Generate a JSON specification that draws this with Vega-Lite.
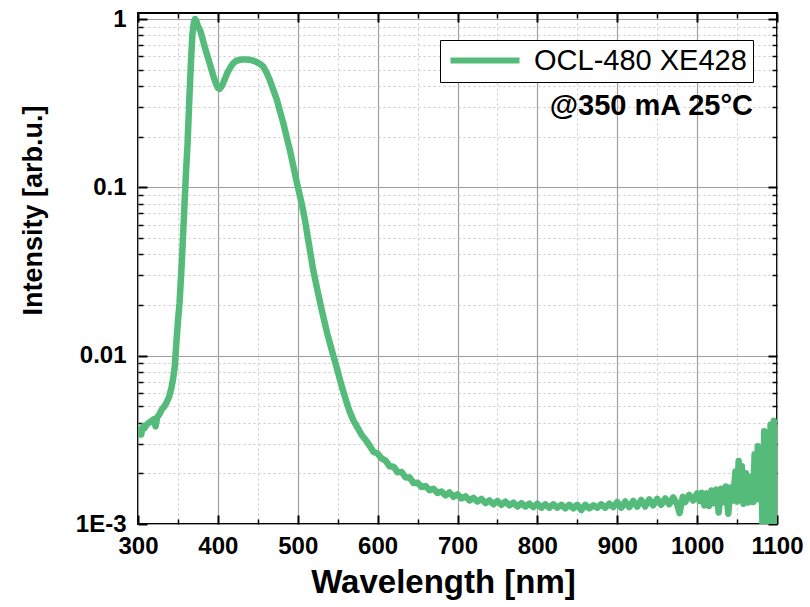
{
  "$schema": "https://vega.github.io/schema/vega-lite/v6.json",
  "width": 639,
  "height": 511,
  "autosize": {"type": "none"},
  "padding": {"left": 138, "top": 13, "right": 33, "bottom": 83},
  "background": "white",
  "config": {"view": {"stroke": "black", "strokeWidth": 2}, "font": "Liberation Sans"},
  "title": {"text": "@350 mA 25°C", "anchor": "end", "orient": "top", "frame": "group", "fontSize": 29, "fontWeight": "bold", "font": "Liberation Sans", "color": "black", "offset": 0, "baseline": "alphabetic", "dy": 137, "dx": -24},
  "data": {"values": [
    {"w": 300, "i": 0.0034}, {"w": 302, "i": 0.0036}, {"w": 304, "i": 0.0034}, {"w": 306, "i": 0.0038}, {"w": 308, "i": 0.0037},
    {"w": 311, "i": 0.0039}, {"w": 314, "i": 0.004}, {"w": 317, "i": 0.0041}, {"w": 320, "i": 0.0042}, {"w": 322, "i": 0.0038},
    {"w": 324, "i": 0.0043}, {"w": 327, "i": 0.0045}, {"w": 330, "i": 0.0048}, {"w": 333, "i": 0.005}, {"w": 336, "i": 0.0053},
    {"w": 339, "i": 0.0057}, {"w": 342, "i": 0.0065}, {"w": 344, "i": 0.0073}, {"w": 346, "i": 0.0086}, {"w": 348, "i": 0.0118},
    {"w": 350, "i": 0.016}, {"w": 352, "i": 0.0205}, {"w": 355, "i": 0.037}, {"w": 358, "i": 0.075}, {"w": 360, "i": 0.12},
    {"w": 362, "i": 0.18}, {"w": 364, "i": 0.31}, {"w": 366, "i": 0.52}, {"w": 368, "i": 0.8}, {"w": 370, "i": 0.96},
    {"w": 371.5, "i": 1.0}, {"w": 373, "i": 0.97}, {"w": 375, "i": 0.91}, {"w": 378, "i": 0.85}, {"w": 381, "i": 0.76},
    {"w": 384, "i": 0.67}, {"w": 388, "i": 0.58}, {"w": 391, "i": 0.52}, {"w": 394, "i": 0.465}, {"w": 397, "i": 0.42},
    {"w": 400, "i": 0.39}, {"w": 402, "i": 0.385}, {"w": 405, "i": 0.4}, {"w": 409, "i": 0.444}, {"w": 412, "i": 0.48},
    {"w": 415, "i": 0.51}, {"w": 419, "i": 0.545}, {"w": 423, "i": 0.565}, {"w": 430, "i": 0.575}, {"w": 436, "i": 0.575},
    {"w": 442, "i": 0.57}, {"w": 448, "i": 0.557}, {"w": 453, "i": 0.54}, {"w": 457, "i": 0.52}, {"w": 461, "i": 0.48},
    {"w": 465, "i": 0.434}, {"w": 469, "i": 0.385}, {"w": 474, "i": 0.33}, {"w": 478, "i": 0.28}, {"w": 482, "i": 0.24},
    {"w": 486, "i": 0.2}, {"w": 490, "i": 0.168}, {"w": 495, "i": 0.13}, {"w": 500, "i": 0.101}, {"w": 505, "i": 0.08},
    {"w": 509, "i": 0.064}, {"w": 514, "i": 0.046}, {"w": 519, "i": 0.033}, {"w": 525, "i": 0.024}, {"w": 530, "i": 0.0187},
    {"w": 537, "i": 0.0135}, {"w": 544, "i": 0.0102}, {"w": 550, "i": 0.0081}, {"w": 555, "i": 0.0066},
    {"w": 560, "i": 0.0055}, {"w": 565, "i": 0.00465}, {"w": 570, "i": 0.0041}, {"w": 575, "i": 0.00372}, {"w": 580, "i": 0.00338},
    {"w": 585, "i": 0.00316}, {"w": 590, "i": 0.00292}, {"w": 595, "i": 0.00268}, {"w": 600, "i": 0.00262}, {"w": 605, "i": 0.00245},
    {"w": 610, "i": 0.00238}, {"w": 615, "i": 0.0022}, {"w": 620, "i": 0.00219}, {"w": 625, "i": 0.00203}, {"w": 630, "i": 0.00204},
    {"w": 635, "i": 0.00189}, {"w": 640, "i": 0.00189}, {"w": 645, "i": 0.00175}, {"w": 650, "i": 0.00176}, {"w": 655, "i": 0.00166},
    {"w": 660, "i": 0.00168}, {"w": 665, "i": 0.00159}, {"w": 670, "i": 0.00162}, {"w": 675, "i": 0.00153}, {"w": 680, "i": 0.00156},
    {"w": 685, "i": 0.00148}, {"w": 690, "i": 0.00154}, {"w": 695, "i": 0.00145}, {"w": 700, "i": 0.0015}, {"w": 705, "i": 0.00142},
    {"w": 710, "i": 0.00146}, {"w": 715, "i": 0.00138}, {"w": 720, "i": 0.00143}, {"w": 725, "i": 0.00136}, {"w": 730, "i": 0.00141},
    {"w": 735, "i": 0.00133}, {"w": 740, "i": 0.00138}, {"w": 745, "i": 0.00131}, {"w": 750, "i": 0.00137}, {"w": 755, "i": 0.0013},
    {"w": 760, "i": 0.00136}, {"w": 765, "i": 0.00129}, {"w": 770, "i": 0.00134}, {"w": 775, "i": 0.00127}, {"w": 780, "i": 0.00133},
    {"w": 785, "i": 0.00127}, {"w": 790, "i": 0.00132}, {"w": 795, "i": 0.00126}, {"w": 800, "i": 0.00132}, {"w": 805, "i": 0.00125},
    {"w": 810, "i": 0.00131}, {"w": 815, "i": 0.00125}, {"w": 820, "i": 0.00131}, {"w": 825, "i": 0.00125}, {"w": 830, "i": 0.0013},
    {"w": 835, "i": 0.00124}, {"w": 840, "i": 0.0013}, {"w": 845, "i": 0.00124}, {"w": 850, "i": 0.0013}, {"w": 855, "i": 0.00121},
    {"w": 860, "i": 0.0013}, {"w": 865, "i": 0.00124}, {"w": 870, "i": 0.00129}, {"w": 875, "i": 0.00125}, {"w": 880, "i": 0.00131},
    {"w": 885, "i": 0.00125}, {"w": 890, "i": 0.00132}, {"w": 895, "i": 0.00126}, {"w": 900, "i": 0.00135}, {"w": 905, "i": 0.00125},
    {"w": 910, "i": 0.00136}, {"w": 915, "i": 0.00126}, {"w": 920, "i": 0.00137}, {"w": 925, "i": 0.00127}, {"w": 930, "i": 0.00139},
    {"w": 935, "i": 0.00127}, {"w": 940, "i": 0.0014}, {"w": 945, "i": 0.00129}, {"w": 950, "i": 0.00141}, {"w": 955, "i": 0.0013},
    {"w": 960, "i": 0.00142}, {"w": 965, "i": 0.00131}, {"w": 970, "i": 0.00144}, {"w": 975, "i": 0.00131}, {"w": 978, "i": 0.00116},
    {"w": 982, "i": 0.00145}, {"w": 985, "i": 0.00135}, {"w": 990, "i": 0.00149}, {"w": 995, "i": 0.00138}, {"w": 1000, "i": 0.00152},
    {"w": 1003, "i": 0.00137}, {"w": 1006, "i": 0.00153}, {"w": 1009, "i": 0.00129}, {"w": 1012, "i": 0.00152}, {"w": 1015, "i": 0.00128},
    {"w": 1018, "i": 0.00158}, {"w": 1021, "i": 0.00133}, {"w": 1024, "i": 0.0016}, {"w": 1027, "i": 0.00117}, {"w": 1030, "i": 0.00162},
    {"w": 1033, "i": 0.00135}, {"w": 1036, "i": 0.00167}, {"w": 1039, "i": 0.00115}, {"w": 1042, "i": 0.00165}, {"w": 1045, "i": 0.00138},
    {"w": 1048, "i": 0.00205}, {"w": 1050, "i": 0.00136}, {"w": 1052, "i": 0.00237}, {"w": 1054, "i": 0.0014}, {"w": 1056, "i": 0.0022},
    {"w": 1058, "i": 0.00132}, {"w": 1061, "i": 0.002}, {"w": 1064, "i": 0.00134}, {"w": 1067, "i": 0.0019}, {"w": 1070, "i": 0.00135},
    {"w": 1072, "i": 0.0026}, {"w": 1074, "i": 0.0014}, {"w": 1076, "i": 0.0029}, {"w": 1078, "i": 0.0016}, {"w": 1080, "i": 0.0024},
    {"w": 1082, "i": 0.0009}, {"w": 1084, "i": 0.00356}, {"w": 1086, "i": 0.0012}, {"w": 1088, "i": 0.0033}, {"w": 1090, "i": 0.0009},
    {"w": 1092, "i": 0.0039}, {"w": 1094, "i": 0.0015}, {"w": 1096, "i": 0.0041}, {"w": 1098, "i": 0.0009}, {"w": 1100, "i": 0.0037}
  ]},
  "resolve": {"axis": {"x": "independent", "y": "independent"}},
  "layer": [
    {
      "mark": {"type": "line", "opacity": 0, "clip": true},
      "encoding": {
        "x": {"field": "w", "type": "quantitative", "scale": {"domain": [300, 1100], "nice": false, "zero": false},
          "axis": {"orient": "bottom", "values": [350, 450, 550, 650, 750, 850, 950, 1050], "grid": true, "gridDash": [2, 3], "gridColor": "#c8c8c8", "gridWidth": 1, "ticks": true, "tickSize": -5, "tickColor": "black", "tickWidth": 1.5, "labels": false, "domain": false, "title": null}},
        "y": {"field": "i", "type": "quantitative", "scale": {"type": "log", "domain": [0.001, 1.086], "nice": false},
          "axis": {"orient": "left", "values": [0.002, 0.003, 0.004, 0.005, 0.006, 0.007, 0.008, 0.009, 0.02, 0.03, 0.04, 0.05, 0.06, 0.07, 0.08, 0.09, 0.2, 0.3, 0.4, 0.5, 0.6, 0.7, 0.8, 0.9], "grid": true, "gridDash": [2, 3], "gridColor": "#c8c8c8", "gridWidth": 1, "ticks": true, "tickSize": -5, "tickColor": "black", "tickWidth": 1.5, "labels": false, "domain": false, "title": null}}
      }
    },
    {
      "mark": {"type": "line", "opacity": 0, "clip": true},
      "encoding": {
        "x": {"field": "w", "type": "quantitative",
          "axis": {"orient": "top", "values": [350, 450, 550, 650, 750, 850, 950, 1050], "grid": false, "ticks": true, "tickSize": -5, "tickColor": "black", "tickWidth": 1.5, "labels": false, "domain": false, "title": null}},
        "y": {"field": "i", "type": "quantitative",
          "axis": {"orient": "right", "values": [0.002, 0.003, 0.004, 0.005, 0.006, 0.007, 0.008, 0.009, 0.02, 0.03, 0.04, 0.05, 0.06, 0.07, 0.08, 0.09, 0.2, 0.3, 0.4, 0.5, 0.6, 0.7, 0.8, 0.9], "grid": false, "ticks": true, "tickSize": -5, "tickColor": "black", "tickWidth": 1.5, "labels": false, "domain": false, "title": null}}
      }
    },
    {
      "mark": {"type": "line", "opacity": 0, "clip": true},
      "encoding": {
        "x": {"field": "w", "type": "quantitative",
          "axis": {"orient": "bottom", "values": [300, 400, 500, 600, 700, 800, 900, 1000, 1100], "grid": true, "gridColor": "#a0a0a0", "gridWidth": 1.2, "ticks": true, "tickSize": -9, "tickColor": "black", "tickWidth": 2, "labels": false, "domain": false, "title": null}},
        "y": {"field": "i", "type": "quantitative",
          "axis": {"orient": "left", "values": [0.001, 0.01, 0.1, 1], "grid": true, "gridColor": "#a0a0a0", "gridWidth": 1.2, "ticks": true, "tickSize": -9, "tickColor": "black", "tickWidth": 2, "labels": false, "domain": false, "title": null}}
      }
    },
    {
      "mark": {"type": "line", "opacity": 0, "clip": true},
      "encoding": {
        "x": {"field": "w", "type": "quantitative",
          "axis": {"orient": "top", "values": [300, 400, 500, 600, 700, 800, 900, 1000, 1100], "grid": false, "ticks": true, "tickSize": -9, "tickColor": "black", "tickWidth": 2, "labels": false, "domain": false, "title": null}},
        "y": {"field": "i", "type": "quantitative",
          "axis": {"orient": "right", "values": [0.001, 0.01, 0.1, 1], "grid": false, "ticks": true, "tickSize": -9, "tickColor": "black", "tickWidth": 2, "labels": false, "domain": false, "title": null}}
      }
    },
    {
      "mark": {"type": "line", "strokeWidth": 6.5, "clip": true, "strokeJoin": "round"},
      "encoding": {
        "x": {"field": "w", "type": "quantitative",
          "axis": {"orient": "bottom", "values": [300, 400, 500, 600, 700, 800, 900, 1000, 1100], "format": "d", "grid": false, "ticks": false, "domain": false, "labels": true, "labelFont": "Liberation Sans", "labelFontSize": 24, "labelFontWeight": "bold", "labelColor": "black", "labelPadding": 10, "labelFlush": false,
            "title": "Wavelength [nm]", "titleFont": "Liberation Sans", "titleFontSize": 33, "titleFontWeight": "bold", "titleColor": "black", "titleX": 305, "titleY": 68, "titleBaseline": "alphabetic", "titleAnchor": "middle"}},
        "y": {"field": "i", "type": "quantitative",
          "axis": {"orient": "left", "values": [0.001, 0.01, 0.1, 1], "grid": false, "ticks": false, "domain": false, "labels": true, "labelFont": "Liberation Sans", "labelFontSize": 24, "labelFontWeight": "bold", "labelColor": "black", "labelPadding": 12, "labelFlush": false,
            "labelExpr": "datum.value > 0.5 ? '1' : datum.value > 0.05 ? '0.1' : datum.value > 0.005 ? '0.01' : '1E-3'",
            "title": "Intensity [arb.u.]", "titleFont": "Liberation Sans", "titleFontSize": 27, "titleFontWeight": "bold", "titleColor": "black", "titleX": -97, "titleY": 197, "titleBaseline": "alphabetic", "titleAnchor": "middle"}},
        "color": {"datum": "OCL-480 XE428", "type": "nominal", "scale": {"range": ["#55bb7a"]},
          "legend": {"orient": "none", "legendX": 302, "legendY": 27, "title": null, "symbolType": "M-1,0H5.9", "symbolSize": 400, "symbolStrokeWidth": 6, "labelFont": "Liberation Sans", "labelFontSize": 29, "labelColor": "black", "labelOffset": 59, "labelLimit": 500, "padding": 6, "strokeColor": "black", "fillColor": "white", "cornerRadius": 0}}
      }
    }
  ]
}
